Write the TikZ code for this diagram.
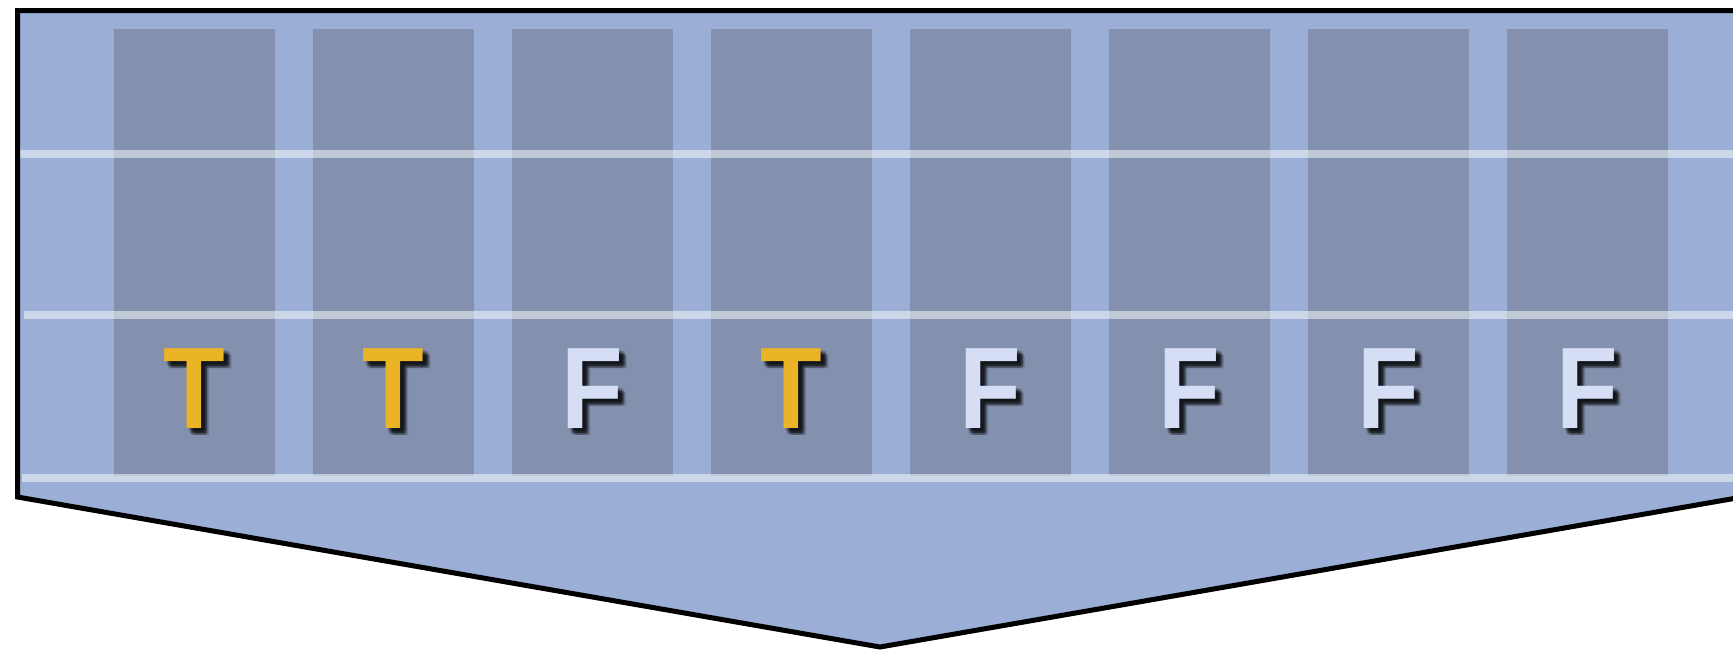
\documentclass[tikz,border=0pt]{standalone}
\usepackage{fontspec}
\setmainfont{Liberation Sans}
\usetikzlibrary{calc}

\definecolor{panelblue}{RGB}{155,175,214}
\definecolor{cellgray}{RGB}{131,145,174}
\definecolor{truegold}{RGB}{235,179,38}
\definecolor{falsepale}{RGB}{213,222,245}

\tikzset{
  cell/.style={fill=cellgray, draw=none},
  rowline/.style={white, opacity=0.5, line width=8},
  bit/.style={font=\fontsize{116}{116}\selectfont\bfseries, inner sep=0pt, anchor=base},
  bitshadow/.style={bit, text=black, opacity=0.14},
}
\newcommand\narrowbit[1]{\scalebox{0.87}[1]{#1}}

\begin{document}
\begin{tikzpicture}[x=1pt,y=-1pt]
  \useasboundingbox (0,0) rectangle (1733,651);
  \clip (0,0) rectangle (1733,651);

  % the arrow-shaped panel
  \fill [panelblue] (17.5,10.5) -- (1742.5,10.5) -- (1742.5,497) -- (880,647) -- (17.5,497) -- cycle;

  % one column per element
  \foreach \i in {0,...,7}
    \fill [cell] ({114+199*\i},29) rectangle +(161,447);

  % row separators
  \foreach \y/\x in {154/19, 315/24, 478/22}
    \draw [rowline] (\x,\y) -- (1733,\y);

  % truth values with soft drop shadow
  \foreach \v/\c [count=\i from 0] in {T/truegold, T/truegold, F/falsepale, T/truegold,
                                       F/falsepale, F/falsepale, F/falsepale, F/falsepale} {
    \foreach \dx/\dy [count=\k] in {2/3, 4/2, 6/3, 3/5, 5/5, 7/5, 4/7, 6/7, 8/7, 5/4, 6/6, 4/5}
      \node [bitshadow] (sh\i-\k) at ({194.5+199*\i+\dx},{428+\dy}) {\narrowbit{\v}};
    \node [bit, text=\c] (bit\i) at ({194.5+199*\i},428) {\narrowbit{\v}};
  }

  % outline
  \draw [line width=5] (17.5,10.5) -- (1742.5,10.5) -- (1742.5,497) -- (880,647) -- (17.5,497) -- cycle;
\end{tikzpicture}
\end{document}
